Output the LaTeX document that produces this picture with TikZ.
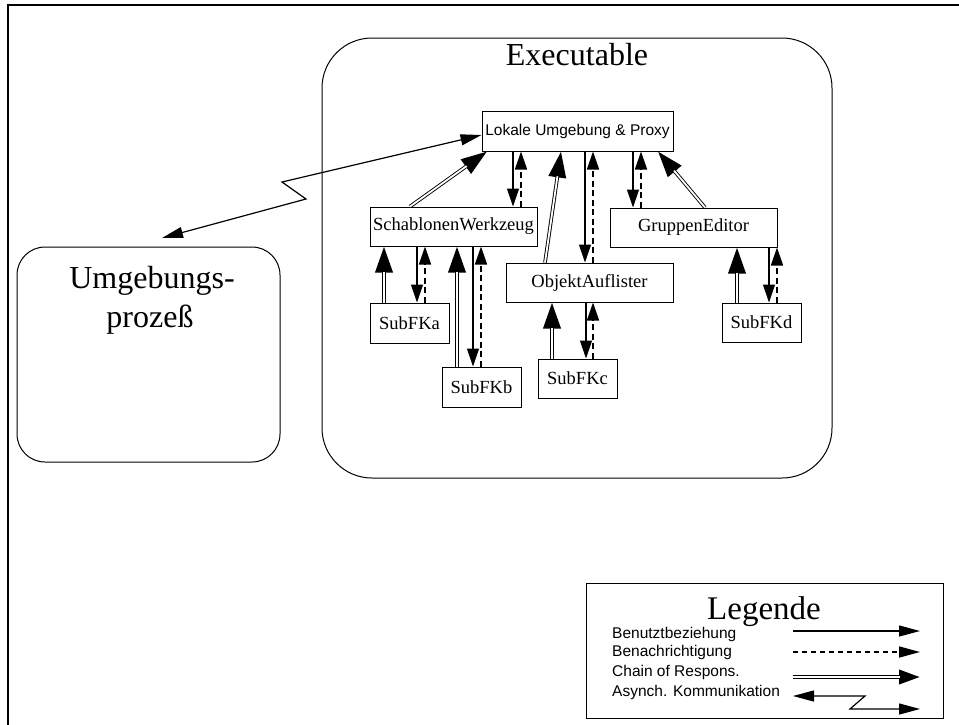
\documentclass[tikz,border=0pt]{standalone}
\usepackage{fontspec}
\setmainfont{Liberation Serif}
\setsansfont{Liberation Sans}
\usetikzlibrary{arrows.meta}

\tikzset{
  cls/.style={draw, line width=1pt, inner sep=0pt, font=\fontsize{18.5}{20}\selectfont},
  uses/.style={line width=1.2pt, -{Triangle[length=18pt 0 0,width=12pt 0 0]}},
  notify/.style={line width=1.7pt, dash pattern=on 6pt off 3.5pt, -{Triangle[length=18pt 0 0,width=12pt 0 0]}},
  % a double line: black stroke with a white core that stops before the tip
  chain/.style={line width=3.6pt, -{Triangle[length=26pt 0 0,width=17pt 0 0]},
    postaction={draw=white, line width=1.8pt, -, shorten >=25pt}},
  legchain/.style={line width=3.6pt, -{Triangle[length=21pt 0 0,width=14pt 0 0]},
    postaction={draw=white, line width=1.8pt, -, shorten >=20pt}},
  async/.style={line width=1.2pt, {Triangle[length=21pt 0 0,width=11pt 0 0]}-{Triangle[length=21pt 0 0,width=11pt 0 0]}},
  legtip/.style={-{Triangle[length=21pt 0 0,width=11pt 0 0]}},
  container/.style={draw, line width=1pt},
  bigtext/.style={font=\fontsize{32}{36}\selectfont, inner sep=0pt},
  legtext/.style={font=\sffamily\fontsize{15.5}{17}\selectfont, inner sep=0pt, anchor=base west},
}

\begin{document}
\begin{tikzpicture}[x=1pt, y=-1pt]
\useasboundingbox (0,0) rectangle (959,724);

% outer frame
\draw[line width=2pt] (8,730) -- (8,5) -- (966,5);

% containers
\draw[container, rounded corners=50pt] (322,38) rectangle (832,478);
\node[bigtext, anchor=base] (exetitle) at (577,65) {Executable};

\draw[container, rounded corners=28pt] (17,247) rectangle (280,462);
\node[bigtext, anchor=base] (umg1) at (152,288) {Umgebungs-};
\node[bigtext, anchor=base] (umg2) at (150,327) {prozeß};

% classes
\node[cls, minimum width=191pt, minimum height=40pt, font=\sffamily\fontsize{15.5}{17}\selectfont] (lok) at (577.5,131) {Lokale Umgebung \& Proxy};
\node[cls, minimum width=167pt, minimum height=39pt] (sw) at (453.5,226.5) {SchablonenWerkzeug};
\node[cls, minimum width=167pt, minimum height=39pt] (ge) at (693.5,227.5) {GruppenEditor};
\node[cls, minimum width=167pt, minimum height=39pt] (oa) at (589.5,282.5) {ObjektAuflister};
\node[cls, minimum width=79pt, minimum height=40pt] (fa) at (409.5,323) {SubFKa};
\node[cls, minimum width=79pt, minimum height=40pt] (fb) at (481.5,387) {SubFKb};
\node[cls, minimum width=79pt, minimum height=39pt] (fc) at (577.5,378.5) {SubFKc};
\node[cls, minimum width=79pt, minimum height=39pt] (fd) at (761.5,322.5) {SubFKd};

% Lokale Umgebung <-> SchablonenWerkzeug
\draw[chain] (410,0 |- sw.north) -- (487,0 |- lok.south);
\draw[uses] (513,0 |- lok.south) -- (513,0 |- sw.north);
\draw[notify] (521,0 |- sw.north) -- (521,0 |- lok.south);

% Lokale Umgebung <-> ObjektAuflister
\draw[chain] (545,0 |- oa.north) -- (561,0 |- lok.south);
\draw[uses] (585,0 |- lok.south) -- (585,0 |- oa.north);
\draw[notify] (593,0 |- oa.north) -- (593,0 |- lok.south);

% Lokale Umgebung <-> GruppenEditor
\draw[uses] (633,0 |- lok.south) -- (633,0 |- ge.north);
\draw[notify] (641,0 |- ge.north) -- (641,0 |- lok.south);
\draw[chain] (705,0 |- ge.north) -- (658,0 |- lok.south);

% SchablonenWerkzeug <-> SubFKa, SubFKb
\draw[chain] (384,0 |- fa.north) -- (384,0 |- sw.south);
\draw[uses] (417,0 |- sw.south) -- (417,0 |- fa.north);
\draw[notify] (425,0 |- fa.north) -- (425,0 |- sw.south);
\draw[chain] (457,0 |- fb.north) -- (457,0 |- sw.south);
\draw[uses] (473,0 |- sw.south) -- (473,0 |- fb.north);
\draw[notify] (481,0 |- fb.north) -- (481,0 |- sw.south);

% ObjektAuflister <-> SubFKc
\draw[chain] (552,0 |- fc.north) -- (552,0 |- oa.south);
\draw[uses] (586,0 |- oa.south) -- (586,0 |- fc.north);
\draw[notify] (593,0 |- fc.north) -- (593,0 |- oa.south);

% GruppenEditor <-> SubFKd
\draw[chain] (737,0 |- fd.north) -- (737,0 |- ge.south);
\draw[uses] (769,0 |- ge.south) -- (769,0 |- fd.north);
\draw[notify] (777,0 |- fd.north) -- (777,0 |- ge.south);

% asynchronous link to the environment process
\coordinate (umgtip) at (162,238);
\draw[async] (umgtip) -- (306,199) -- (282,182) -- ([yshift=-4pt]lok.west);

% legend
\draw[line width=1pt] (586,583) rectangle (943,718);
\node[bigtext, anchor=base, font=\fontsize{33}{36}\selectfont] (legtitle) at (764,619) {Legende};
\node[legtext] (l1) at (612,638) {Benutztbeziehung};
\node[legtext] (l2) at (612,656) {Benachrichtigung};
\node[legtext] (l3) at (612,676) {Chain of Respons.};
\node[legtext] (l4) at (612,696) {Asynch. Kommunikation};
\coordinate (u1) at (793,631);
\coordinate (u2) at (920,631);
\coordinate (n1) at (793,652);
\coordinate (n2) at (920,652);
\coordinate (c1) at (793,677);
\coordinate (c2) at (920,677);
\coordinate (a1) at (793,696);
\coordinate (a2) at (920,709);
\draw[line width=1.2pt, legtip] (u1) -- (u2);
\draw[line width=1.6pt, dash pattern=on 5pt off 4pt, legtip] (n1) -- (n2);
\draw[legchain] (c1) -- (c2);
\draw[async] (a1) -- (865,696) -- (850,709) -- (a2);
\end{tikzpicture}
\end{document}
